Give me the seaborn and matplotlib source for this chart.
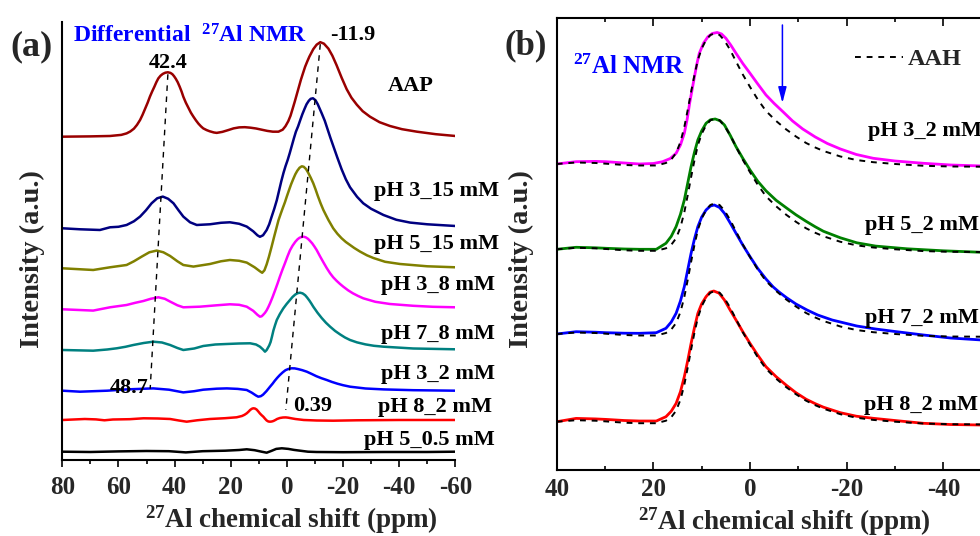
import numpy as np
import pandas as pd
import matplotlib
matplotlib.use("Agg")
import matplotlib.pyplot as plt
import seaborn as sns
from matplotlib.lines import Line2D

# ---------------- panel (a): differential 27Al NMR ----------------
aap_shift = [80, 70, 63, 59, 57.1, 55.8, 54.5, 53.4, 52.3, 51.4, 50.5, 49.6, 48.8, 48, 47.2, 46.5,
             45.8, 45, 44.2, 43.3, 42.4, 41.5, 40.8, 40.2, 39.6, 38.9, 38.2, 37.5, 36.9, 36, 35.1,
             34.2, 33.3, 32.4, 31.5, 30.6, 29.8, 28.6, 27.5, 26, 25, 23, 21, 19, 17, 15, 13, 11,
             9, 7, 5, 3, 1.5, 0.5, -0.5, -1.3, -2, -2.8, -3.5, -4.3, -5, -5.8, -6.5, -7.3, -8,
             -9.4, -10.6, -11.9, -13.2, -14.8, -16.2, -17.7, -19.5, -21.3, -23, -24.9, -27,
             -29.6, -33, -36.7, -41, -46.3, -53, -60]
aap_int = [0, 0.3, 0.7, 1.8, 3.3, 5.2, 8, 11.8, 16.7, 22, 28, 34, 40, 45.2, 50, 54.5,
           58.3, 61, 62.8, 64, 64.4, 63.8, 62.5, 60.5, 58, 54.5, 50, 45, 40, 34, 29,
           24, 20, 16.3, 13, 10.3, 8.3, 6.6, 5.4, 4.2, 3.8, 4.8, 6.5, 8.3, 9.3, 9.5, 9, 8.2,
           7, 5.8, 5, 5, 7, 10.5, 15.5, 21, 27.5, 35, 42, 50, 57, 64, 70, 75.5, 80,
           87.5, 92, 94.5, 93, 88, 81, 71.5, 59, 47.5, 39, 32, 25.5,
           20, 14.5, 10.7, 7.5, 5, 2.5, 0.7]

ph3_15_shift = [80, 73.7, 66.6, 63, 60, 57.1, 54.5, 52.3, 50.2, 48.2, 46.2, 44.2, 42.3, 40.4, 38.6,
                36.9, 34.5, 32.1, 27.4, 23.5, 20.3, 17, 14.3, 12, 10.5, 9.6, 8.5, 7.2, 6.3, 5.5,
                4.5, 3.6, 2.8, 2, 1.2, 0.5, -0.3, -1, -1.8, -2.5, -3.2, -4, -4.8, -5.5, -6.3, -7,
                -7.8, -8.5, -9.3, -10.2, -11, -12.4, -13.5, -14.5, -15.5, -16.5, -18, -19.5, -21,
                -22.5, -25, -27.2, -30, -34.4, -39, -43.9, -50, -60]
ph3_15_int = [0, -1, -1.7, 1, 1.5, 3.3, 7, 11.7, 18, 25, 30, 31.7, 29.5, 25, 18,
              11.7, 6, 3.3, 4, 5.5, 6, 4.5, 1.7, -3, -7, -8.5, -7, -1.7, 4, 11,
              19.5, 28, 37.5, 47, 55.5, 62, 68.5, 75, 83, 90, 96.5, 102, 108.5, 114, 119.5, 124,
              127.5, 129.5, 130, 128, 124, 115, 107.5, 99, 90.5, 82.5, 70.5, 59, 49,
              41, 31.5, 25, 19.5, 13.3, 8.5, 5.7, 4, 2.3]

ph5_15_shift = [80, 69, 63, 57.1, 54.5, 51.7, 49, 46.4, 44, 41.6, 39, 36.9, 33.3, 27.4, 23.5, 20.3,
                17, 14.3, 11.5, 9.6, 8.8, 8, 7.2, 6.4, 5.5, 4.5, 3.7, 3, 2.2, 1.5, 0.7, 0, -0.8,
                -1.5, -2.3, -3, -3.7, -4.5, -5.3, -6, -6.8, -7.6, -8.5, -9.4, -10.2, -11, -12, -13,
                -14, -14.8, -16.5, -18, -19.5, -21, -22.5, -24, -26, -28.5, -30.8, -35, -40.3,
                -50, -60]
ph5_15_int = [0, -1.7, 1, 3.3, 7, 11.7, 16, 17.7, 16, 12.3, 7, 3.3, 1.7, 4.3, 7, 8.3,
              7.5, 5.7, 1, -3, -4.5, -2, 4, 11.5, 21, 32, 40.5, 48, 54.5, 60, 66, 72, 78.5,
              84, 89.5, 94, 97.5, 100.5, 102, 101.5, 99.3, 95.5, 90.5, 85, 79, 72.5, 65, 58.3,
              52.7, 48.3, 40, 34.5, 30, 26.3, 23.3, 20.3, 16.8, 13, 10.3, 6.5, 4.3,
              2, 1]

ph3_8_shift = [80, 69, 63, 57.1, 54, 51.1, 48.5, 45.8, 43.5, 41.6, 39, 36.9, 31, 25, 20.3, 17, 14.3,
               12, 10.5, 9.6, 9, 8.5, 7.8, 7.2, 6.6, 6, 5.1, 4.2, 3.3, 2.5, 1.6, 0.7, -0.2, -1.1,
               -2, -3, -3.8, -4.5, -5.2, -5.9, -6.7, -7.5, -8.2, -9, -9.8, -10.6, -11.8, -13,
               -14.2, -15.4, -16.5, -17.7, -18.9, -20.1, -21.8, -23.5, -25.3, -27.2, -31.5,
               -36.7, -45, -52, -60]
ph3_8_int = [0, -1.3, 2, 4.3, 6.5, 8.3, 10.5, 12, 10.5, 7.7, 4, 2, 2.6, 4, 5, 4.5, 2.6,
             -1.5, -5.5, -7.4, -7, -5.7, -3.5, -1, 2.3, 6, 12.2, 19, 26, 32.6, 39.5, 46, 52.8, 59,
             63.5, 67.5, 70, 71.5, 72.3, 72.6, 72, 70.5, 68.5, 66, 62.8, 59.3, 53, 47,
             41.2, 36, 32, 28.5, 25.4, 22.6, 19, 16, 13.4, 11, 7.5,
             5.3, 3.5, 2.5, 2]

ph7_8_shift = [80, 69, 64, 60.6, 57.5, 54.7, 51, 47.6, 44.5, 41.6, 39, 36.9, 33, 29.8, 25.5, 21.4,
               17, 13.1, 11, 9.6, 8.5, 7.8, 7.2, 6.8, 6.3, 5.8, 5.3, 4.8, 4.2, 3.6, 2.5, 1.3, 0.1,
               -1.1, -2, -3, -3.8, -4.7, -5.6, -6.5, -7.2, -8, -8.7, -9.4, -10.9, -12.4, -13.9,
               -15.4, -17.2, -19, -20.7, -22.5, -25, -28, -31, -34.4, -45, -60]
ph7_8_int = [0, -0.7, 0.5, 1.7, 3.2, 5, 7, 8.3, 7.5, 5, 2, 0, 1.5, 4, 5.5, 6,
             6.5, 6.7, 5.5, 3.3, 0.5, -1.7, 0, 2, 4.5, 8, 13.5, 19.5, 25, 30, 36, 41.5, 46,
             50, 53, 55.5, 56.8, 57.3, 56.6, 54.8, 52.5, 49.5, 46.5, 43.3, 37.3, 32, 27.3,
             23.3, 19, 15.5, 12.5, 10, 7.6, 5.6, 4.2, 3.3, 1.5, 0.7]

ph3_2_shift = [80, 73.7, 64, 57.1, 47.6, 42, 36.9, 33, 29.8, 25, 21.4, 17.5, 14.3, 12.5, 11, 10.2,
               9.3, 8.5, 7.3, 6, 5.1, 4.3, 3.4, 2.5, 1.5, 0.5, -0.6, -1.7, -2.8, -4, -5.5, -7.1,
               -8.8, -10.5, -12.3, -14.2, -16, -18, -20, -22.5, -28, -34.4, -45, -60]
ph3_2_int = [0, -1, 0, 1.3, 2.3, 1, -1.7, -0.5, 1, 2, 2.3, 1.8, 0.7, -2, -4.8, -6,
             -5.5, -4, -0.5, 4, 7, 10, 13, 15.7, 18.3, 20.5, 21.8, 22.4, 22.3, 21.6, 20.5, 19,
             16.8, 14.5, 12.5, 10.7, 8.8, 7, 5.5, 4, 2.2, 1.3, 0.5, 0]

ph8_2_shift = [80, 76, 72, 68, 65, 62, 56, 51.1, 46, 41.6, 38.5, 35.7, 32, 27.4, 22, 17.9, 16, 15.1,
               14.3, 13.6, 13.1, 12.5, 12, 11.4, 10.8, 10.2, 9.6, 9, 8.4, 7.8, 7.2, 6.6, 6, 5.4,
               4.8, 4.1, 3.5, 2.5, 1.4, 0.4, -0.5, -1.8, -3, -6, -10.6, -16.5, -25, -40, -60]
ph8_2_int = [0, 0.5, 1, 0.6, -0.3, 0.5, 0.8, 1.7, 1.5, 1, -0.5, -1.7, -0.3, 1, 1.8, 2.7, 4, 5.2,
             6.7, 8.5, 10, 11.2, 11.7, 11.5, 10.5, 8.6, 6.5, 4.8, 3.3, 1.3, -0.5, -1.5, -1.7, -1.5,
             -1, 0, 1, 2, 2.5, 2.6, 2.3, 1.6, 1, 0, -0.5, -0.7, -0.3, 0, 0]

ph5_05_shift = [80, 70, 60, 50, 42, 36, 30, 22, 17, 14.3, 11.5, 9, 7.2, 5.5, 3.8, 1.8, -0.5, -2.5,
                -4.7, -7.5, -10.6, -20, -35, -50, -60]
ph5_05_int = [0, -0.3, 0.3, 0.7, 0.5, -0.7, 0.5, 1, 1.7, 2.4, 1.5, 0, -1, 0.8, 2.8, 3.4, 2.8, 1.8,
              1, 0, -0.3, -0.5, -0.3, -0.3, 0]

a_labels = ["AAP", "pH 3_15 mM", "pH 5_15 mM", "pH 3_8 mM", "pH 7_8 mM",
            "pH 3_2 mM", "pH 8_2 mM", "pH 5_0.5 mM"]
a_shifts = [aap_shift, ph3_15_shift, ph5_15_shift, ph3_8_shift, ph7_8_shift,
            ph3_2_shift, ph8_2_shift, ph5_05_shift]
a_values = [aap_int, ph3_15_int, ph5_15_int, ph3_8_int, ph7_8_int,
            ph3_2_int, ph8_2_int, ph5_05_int]
a_colors = ["#990000", "#000080", "#808000", "#FF00FF", "#008080",
            "#0000FF", "#FF0000", "#000000"]
a_offsets = [323.3, 231.7, 191.7, 150.7, 110, 69.3, 40, 8.3]
# label anchor (shift, height) for each trace name
a_label_pos = [(-36.0, 369), (-31.0, 264), (-31.0, 211), (-33.4, 170), (-33.4, 121),
               (-33.4, 81), (-32.4, 48), (-27.6, 15)]

# ---------------- panel (b): 27Al NMR vs AAH ----------------
b3_shift = [40, 36, 32, 29.8, 26, 22.9, 20, 18.1, 16.5, 15.3, 14.4, 13.6, 13, 12.5, 12, 11.5, 11,
            10.5, 9.6, 8.7, 7.8, 6.8, 5.9, 5, 4, 2.9, 1.5, 0, -1.6, -3.3, -5, -6.8, -8.8, -10.9,
            -13.5, -16, -18.7, -22, -25.5, -30, -35.9, -41.5, -48]
b3_int = [0, 2.3, 2.6, 2.3, 1, 0, 0.5, 2.3, 5.5, 10.7, 19, 30.7, 45, 60.7, 74, 87.3, 100,
          110.7, 121, 127.3, 130.5, 131.5, 130, 125.7, 119, 110.7, 100.5, 90.7, 80, 69, 60.5, 52.3, 43, 35,
          27, 20.5, 15, 9.5, 5.7, 3, 0.7, -1, -2]

b5_shift = [40, 36, 32, 29.8, 26, 22.9, 19.4, 17.4, 16.3, 15.3, 14.4, 13.6, 12.9, 12.2, 11.5, 10.8,
            10, 9.1, 8.2, 7.2, 6.2, 5.3, 4.1, 2.9, 1.5, 0, -1.6, -3.3, -5.4, -7.5, -9.5, -11.6,
            -13.5, -15.2, -18.7, -22.1, -26, -32.5, -40, -48]
b5_int = [0, 2, 1.5, 1, 0.3, 0, 0, 6, 13, 22.7, 35, 49.3, 66, 82.7, 97, 109.3,
          118.5, 126, 129.5, 130.3, 128.5, 124.3, 114, 102.6, 91, 79.3, 68, 58.5, 49, 41.5, 34.5, 28,
          22.5, 18, 11.5, 6.5, 3.2, 0.5, -1.5, -3]

b7_shift = [40, 36, 32, 29.8, 26, 22.9, 19.4, 17.4, 16.3, 15.3, 14.4, 13.6, 12.9, 12.2, 11.5, 10.8,
            10, 9.1, 8.2, 7.4, 6.3, 5.3, 4.1, 2.9, 1.5, 0, -1.6, -3.3, -4.8, -6, -7.5, -9.5,
            -11.8, -14, -17, -22.1, -26, -30, -35.9, -41.5, -48]
b7_int = [0, 2.3, 1.8, 1.3, 0.8, 0.7, 1.3, 5.7, 12, 20.7, 33, 47.3, 64, 80.7, 95, 107.3,
          117, 124, 128, 129, 126.5, 120.7, 111, 100.7, 89, 77.3, 65.5, 55, 47, 42, 36.5, 30,
          24, 19, 14, 8, 5, 2.5, -1, -4, -6]

b8_shift = [40, 36, 32, 29.8, 26, 22.9, 19.4, 17.4, 16.3, 15.3, 14.4, 13.6, 12.9, 12.2, 11.5, 10.8,
            10, 9.1, 8.3, 7.5, 6.4, 5.3, 4.1, 2.9, 1.5, 0, -1.6, -3.3, -5.4, -7.5, -9.5, -11.6,
            -13.5, -15.2, -18.7, -22, -25.5, -30, -35.9, -41.5, -48]
b8_int = [0, 3.3, 2.8, 2.3, 1.2, 0.7, 0.7, 5, 10.5, 18.3, 30, 45, 61, 78.3, 94, 108.3,
          118, 125, 129.5, 130.7, 128.5, 121.7, 111.5, 101.7, 90, 78.3, 66.5, 55, 45, 36.5, 29, 22.5,
          18, 14.5, 9, 5.5, 3.4, 1.2, -1.6, -2.8, -3.3]

aah_shift = [40, 36, 32, 29.8, 26, 22.9, 19.4, 17.4, 16.3, 15.3, 14.4, 13.6, 12.9, 12.2, 11.5, 10.8,
             10, 9.1, 8.2, 7.3, 6.3, 5.3, 4.1, 2.9, 1.5, 0, -1.6, -3.3, -5.4, -7.5, -9.5, -11.6,
             -13.5, -15.2, -18.7, -22, -25.5, -30, -35.9, -41.5, -48]
aah_int = [0, 1.5, 1, 0.3, -1, -1.5, -1.5, 1, 4.5, 11, 22, 37, 54, 72, 89, 104,
           115.5, 124, 129, 130.7, 129, 123.5, 114, 102.5, 89.5, 77, 64.5, 53, 43, 34.5, 27.5, 21,
           16.5, 13, 7.5, 4, 1.8, 0, -1.8, -2.5, -2.7]

b_labels = ["pH 3_2 mM", "pH 5_2 mM", "pH 7_2 mM", "pH 8_2 mM"]
b_shifts = [b3_shift, b5_shift, b7_shift, b8_shift]
b_values = [b3_int, b5_int, b7_int, b8_int]
b_colors = ["#FF00FF", "#008000", "#0000FF", "#FF0000"]
b_offsets = [306, 220.7, 136, 48.3]
b_label_pos = [(-24.5, 334), (-23.8, 240), (-23.8, 147), (-23.5, 60)]

# peak guide lines in (a): (shift at the AAP peak, shift at the lower end)
guide_tetra = (42.4, 48.7)
guide_octa = (-11.9, 0.39)

# ---------------- style ----------------
sns.set_theme(style="ticks")
plt.rcParams.update({
    "font.family": ["Liberation Serif", "DejaVu Serif"],
    "font.weight": "bold",
    "mathtext.fontset": "custom",
    "mathtext.rm": "Liberation Serif:bold",
    "mathtext.bf": "Liberation Serif:bold",
    "mathtext.it": "Liberation Serif:italic:bold",
    "axes.linewidth": 1.5,
    "axes.edgecolor": "black",
})

fig = plt.figure(figsize=(9.8, 5.36), dpi=100)
ax_a = fig.add_axes([0.0636, 0.1418, 0.401, 0.8172])
ax_b = fig.add_axes([0.5681, 0.1231, 0.4931, 0.8428])

# ---- draw panel (a)
for shift, vals, col, off in zip(a_shifts, a_values, a_colors, a_offsets):
    df = pd.DataFrame({"shift": shift, "intensity": np.asarray(vals) + off})
    sns.lineplot(data=df, x="shift", y="intensity", ax=ax_a, color=col, lw=1.8,
                 estimator=None, sort=False)

tetra_top = a_offsets[0] + aap_int[aap_shift.index(guide_tetra[0])] - 2
octa_top = a_offsets[0] + aap_int[aap_shift.index(guide_octa[0])] - 2
ax_a.plot(guide_tetra, [tetra_top, a_offsets[5] + 2],
          color="black", lw=1.0, dashes=(4, 4))
ax_a.plot(guide_octa, [octa_top, a_offsets[6] + 10],
          color="black", lw=1.0, dashes=(4, 4))

ax_a.set_xlim(80, -60)
ax_a.set_ylim(0, 438)
a_ticks = np.arange(80, -61, -20)
ax_a.set_xticks(a_ticks)
ax_a.set_xticks(np.arange(70, -60, -20), minor=True)
ax_a.set_yticks([])
ax_a.set_xlabel("")
ax_a.set_ylabel("")
for s in ("top", "right"):
    ax_a.spines[s].set_visible(False)
ax_a.tick_params(axis="x", which="major", direction="out", length=5, width=1.4, pad=6.5,
                 labelsize=18)
ax_a.tick_params(axis="x", which="minor", direction="out", length=3, width=1.4)
ax_a.set_xticklabels([f"{int(t)}" for t in a_ticks], fontweight="bold")

txt = dict(color="black", fontsize=16, fontweight="bold", clip_on=False)
for name, (lx, ly) in zip(a_labels, a_label_pos):
    ax_a.text(lx, ly, name, ha="left", va="baseline", **txt)
ax_a.text(42.4, 392, "42.4", ha="center", va="baseline", **txt)
ax_a.text(-15.4, 420, "-11.9", ha="left", va="baseline", **txt)
ax_a.text(49.4, 67, "48.7", ha="right", va="baseline", **txt)
ax_a.text(-2.2, 48.5, "0.39", ha="left", va="baseline", **txt)
ax_a.text(76.2, 417.3, "Differential  $^{27}$Al NMR", ha="left", va="baseline",
          color="#0000FF", fontsize=17, fontweight="bold", clip_on=False)

# ---- draw panel (b)
for shift, vals, col, off in zip(b_shifts, b_values, b_colors, b_offsets):
    df = pd.DataFrame({"shift": shift, "intensity": np.asarray(vals) + off})
    sns.lineplot(data=df, x="shift", y="intensity", ax=ax_b, color=col, lw=2.0,
                 estimator=None, sort=False)
for off in b_offsets:
    df = pd.DataFrame({"shift": aah_shift, "intensity": np.asarray(aah_int) + off})
    sns.lineplot(data=df, x="shift", y="intensity", ax=ax_b, color="black", lw=1.4,
                 estimator=None, sort=False)
    ax_b.lines[-1].set_dashes((3, 3))

ax_b.set_xlim(40, -60)
ax_b.set_ylim(0, 451.7)
b_ticks = np.arange(40, -41, -20)
ax_b.set_xticks(b_ticks)
ax_b.set_xticks(np.arange(30, -60, -20), minor=True)
ax_b.set_yticks([])
ax_b.set_xlabel("")
ax_b.set_ylabel("")
ax_b.tick_params(axis="x", which="major", direction="in", length=5.8, width=1.4, pad=5.7,
                 labelsize=18, top=True)
ax_b.tick_params(axis="x", which="minor", direction="in", length=2.8, width=1.4, top=True)
ax_b.set_xticklabels([f"{int(t)}" for t in b_ticks], fontweight="bold")

for name, (lx, ly) in zip(b_labels, b_label_pos):
    ax_b.text(lx, ly, name, ha="left", va="baseline", **txt)
ax_b.text(36.7, 396, "$^{27}$Al NMR", ha="left", va="baseline",
          color="#0000FF", fontsize=18, fontweight="bold")
ax_b.annotate("", xy=(-6.7, 367), xytext=(-6.7, 445),
              arrowprops=dict(arrowstyle="-|>,head_length=0.95,head_width=0.25",
                              color="#0000FF", lw=1.1, mutation_scale=10,
                              shrinkA=0, shrinkB=0))

aah_handle = Line2D([], [], color="black", lw=1.4, dashes=(3, 3))
ax_b.legend([aah_handle], ["AAH"], loc="center left",
            bbox_to_anchor=(855 / 980, 1 - 59.3 / 536), bbox_transform=fig.transFigure,
            frameon=False, borderpad=0, borderaxespad=0, handlelength=1.98,
            handletextpad=0.2, prop={"size": 17.5, "weight": "bold"})

# ---- panel tags and axis titles
fig.text(0.0102, 0.8965, "(a)", fontsize=26, fontweight="bold", ha="left", va="baseline")
fig.text(0.5153, 0.8993, "(b)", fontsize=25, fontweight="bold", ha="left", va="baseline")
for xc in (0.0332, 0.5316):
    fig.text(xc, 0.5168, "Intensity (a.u.)", rotation=90, ha="center", va="center",
             fontsize=20.5, fontweight="bold")
fig.text(0.2977, 0.0149, "$^{27}$Al chemical shift (ppm)", ha="center", va="baseline",
         fontsize=19.5, fontweight="bold")
fig.text(0.80, 0.0125, "$^{27}$Al chemical shift (ppm)", ha="center", va="baseline",
         fontsize=19.5, fontweight="bold")

fig.savefig("out.png", dpi=100)
